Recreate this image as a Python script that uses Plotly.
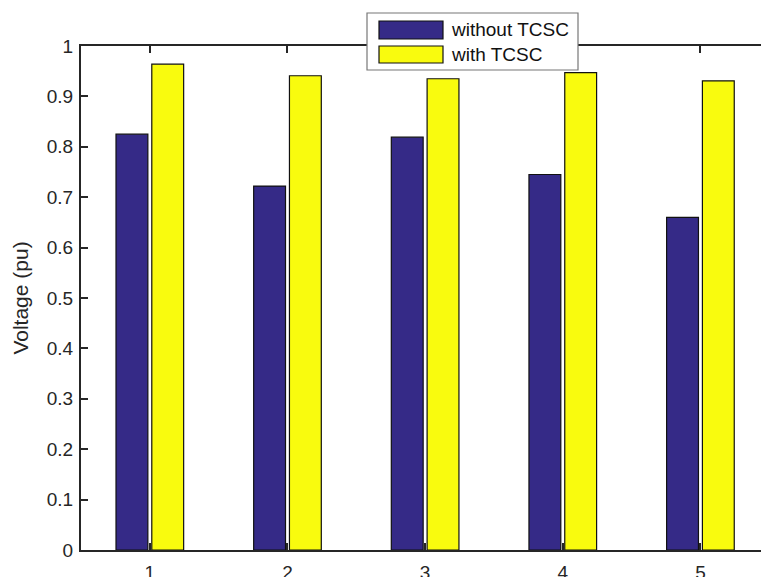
import plotly.graph_objects as go

categories = [1, 2, 3, 4, 5]
without_tcsc = [0.825, 0.722, 0.819, 0.745, 0.660]
with_tcsc = [0.964, 0.941, 0.935, 0.947, 0.931]
series_names = ["without TCSC", "with TCSC"]
y_ticks = [0, 0.1, 0.2, 0.3, 0.4, 0.5, 0.6, 0.7, 0.8, 0.9, 1]
y_tick_labels = ["0", "0.1", "0.2", "0.3", "0.4", "0.5", "0.6", "0.7", "0.8", "0.9", "1"]

BLUE = "#352A87"
YELLOW = "#F9FB0E"
AX = "#262626"
FONT = "Liberation Sans, Arial, sans-serif"

fig = go.Figure()
fig.add_trace(go.Bar(x=categories, y=without_tcsc, name=series_names[0],
                     marker=dict(color=BLUE, line=dict(color="#111111", width=1.2)),
                     showlegend=False))
fig.add_trace(go.Bar(x=categories, y=with_tcsc, name=series_names[1],
                     marker=dict(color=YELLOW, line=dict(color="#111111", width=1.2)),
                     showlegend=False))

W, H = 761, 577
L, R, T, B = 81, 0, 46, 27
PW, PH = W - L - R, H - T - B

fig.update_layout(
    width=W, height=H,
    margin=dict(l=L, r=R, t=T, b=B),
    paper_bgcolor="white", plot_bgcolor="white",
    barmode="group", bargap=0.48, bargroupgap=0.11,
    font=dict(family=FONT, size=19, color=AX),
    xaxis=dict(range=[0.5, 5.44], tickvals=categories, ticktext=[str(c) for c in categories],
               ticks="inside", ticklen=7, tickwidth=1.5, tickcolor=AX,
               showline=True, linecolor=AX, linewidth=2, mirror="ticks",
               showgrid=False, zeroline=False, automargin=False,
               tickfont=dict(size=19, color=AX), ticklabelstandoff=4),
    yaxis=dict(range=[0, 1], tickvals=y_ticks, ticktext=y_tick_labels,
               ticks="inside", ticklen=7, tickwidth=1.5, tickcolor=AX,
               showline=True, linecolor=AX, linewidth=2, mirror=False,
               showgrid=False, zeroline=False, automargin=False,
               tickfont=dict(size=19, color=AX), ticklabelstandoff=2,
               title=dict(text="Voltage (pu)", font=dict(size=21, color=AX), standoff=12)),
)

# Custom MATLAB-style legend; pixel positions converted to paper (plot-area) coordinates
def px(x):
    return (x - L) / PW

def py(y):
    return (H - B - y) / PH

shapes = [
    dict(type="rect", xref="paper", yref="paper", x0=px(367), x1=px(578), y0=py(70), y1=py(13),
         fillcolor="white", line=dict(color="#777777", width=1.2), layer="above"),
    dict(type="rect", xref="paper", yref="paper", x0=px(379), x1=px(443), y0=py(39), y1=py(21),
         fillcolor=BLUE, line=dict(color="#111111", width=1.2), layer="above"),
    dict(type="rect", xref="paper", yref="paper", x0=px(379), x1=px(443), y0=py(63), y1=py(46),
         fillcolor=YELLOW, line=dict(color="#111111", width=1.2), layer="above"),
]
annotations = [
    dict(xref="paper", yref="paper", x=px(449), y=py(30), text=series_names[0], showarrow=False,
         xanchor="left", yanchor="middle", font=dict(size=19, color="#111111", family=FONT)),
    dict(xref="paper", yref="paper", x=px(449), y=py(54.5), text=series_names[1], showarrow=False,
         xanchor="left", yanchor="middle", font=dict(size=19, color="#111111", family=FONT)),
]
fig.update_layout(shapes=shapes, annotations=annotations)

fig.write_html("out.html", config={"displayModeBar": False},
               post_script="document.body.style.margin='0';document.body.style.overflow='hidden';")
